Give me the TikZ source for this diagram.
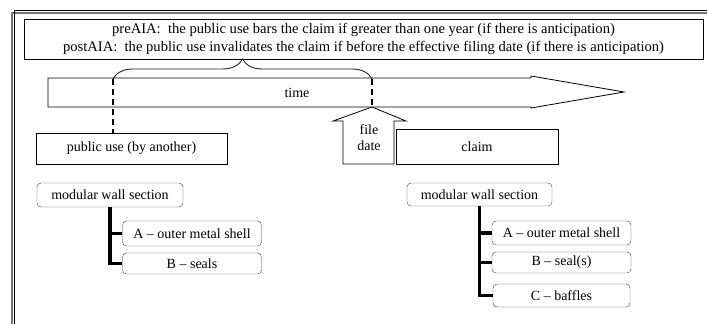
\documentclass[tikz,border=0pt]{standalone}
\usepackage{fontspec}
\setmainfont{Liberation Serif}
\usepackage{tikz}
\usetikzlibrary{shapes.geometric, arrows, decorations.pathreplacing}
\tikzstyle{plainbox} = [rectangle, draw=black, inner sep=0pt, text centered,
font=\fontsize{14}{18}\selectfont]
\tikzstyle{wallbox} = [rectangle, rounded corners=4pt, draw=black!75,
    inner sep=0pt, minimum height=24pt, text centered,
font=\fontsize{14}{17}\selectfont]
\tikzstyle{partbox} = [wallbox, minimum width=139pt]
\tikzstyle{outline} = [draw=black, line width=0.8pt, fill=white]
\tikzstyle{marker} = [line width=1.3pt, dash pattern=on 6pt off 4pt]
\tikzstyle{branch} = [line width=3.5pt]

\begin{document}
\begin{tikzpicture}[x=1pt, y=1pt, node distance=30pt]
            \useasboundingbox (0,0) rectangle (707,-324);
            % Frame
            \draw[line width=2pt, black!55] (12,-324) -- (12,-13) -- (707,-13);
            \draw[line width=1.2pt] (14.5,-324) -- (14.5,-10.5) -- (707,-10.5);
            % Statement
            \node[plainbox, minimum width=679pt, minimum height=40pt,
            align=center, font=\fontsize{14.6}{18.5}\selectfont] (rule)
            at (363.5,-39) {preAIA:\ \ the public use bars the claim if greater than one year (if there is anticipation)\\postAIA:\ \ the public use invalidates the claim if before the effective filing date (if there is anticipation)};
            % Timeline
            \coordinate (useL) at (113,-79);
            \coordinate (useR) at (372,-79);
            \coordinate (tip) at (372,-107);
            \draw[outline] (48,-78) -- (531,-78) -- (531,-76) -- (624,-92)
            -- (531,-108) -- (531,-107) -- (48,-107) -- cycle;
            \node[font=\fontsize{14}{17}\selectfont] (time) at (297,-93) {time};
            \draw[outline] (tip) -- (406,-121) -- (394,-121) -- (394,-164)
            -- (343,-164) -- (343,-121) -- (333,-121) -- cycle;
            \node[align=center, font=\fontsize{14}{16}\selectfont] (filedate)
            at (369,-138) {file\\date};
            % Boxes
            \node[plainbox, minimum width=191pt, minimum height=31pt] (pubuse)
            at (131.5,-148.5) {public use (by another)};
            \node[plainbox, minimum width=162pt, minimum height=35pt] (claim)
            at (477,-146.5) {claim};
            % Brace and markers
            \draw[decorate, decoration={brace, amplitude=20pt}, line width=0.9pt,
            black!85] (useL) -- (useR);
            \draw[marker] (useL) -- (useL |- pubuse.north);
            \draw[marker] (useR) -- (tip);
            % Prior use
            \node[wallbox, minimum width=146pt] (wallL) at (110,-195)
            {modular wall section};
            \node[partbox, minimum height=25pt, below of=wallL, xshift=82pt,
            yshift=-8.5pt] (shellL) {A -- outer metal shell};
            \node[partbox, minimum height=21pt, below of=shellL] (sealL)
            {B -- seals};
            \draw[branch] (wallL.south) |- (sealL.west);
            \draw[branch] (wallL.south |- shellL.west) -- (shellL.west);
            % Claim
            \node[wallbox, minimum width=145pt, minimum height=23pt] (wallR)
            at (479.5,-194.5) {modular wall section};
            \node[partbox, below of=wallR, xshift=82pt, yshift=-8.5pt] (shellR)
            {A -- outer metal shell};
            \node[partbox, minimum height=21pt, below of=shellR, yshift=0.5pt]
            (sealR) {B -- seal(s)};
            \node[partbox, minimum width=137pt, minimum height=23pt,
            below of=sealR, yshift=-3pt] (baffleR) {C -- baffles};
            \draw[branch] (wallR.south) |- (baffleR.west);
            \draw[branch] (wallR.south |- shellR.west) -- (shellR.west);
            \draw[branch] (wallR.south |- sealR.west) -- (sealR.west);
        \end{tikzpicture}
\end{document}
